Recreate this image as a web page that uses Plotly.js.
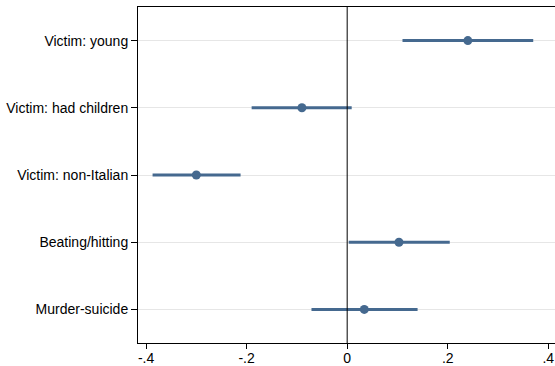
<!DOCTYPE html>
<html>
<head>
<meta charset="utf-8">
<script src="https://cdn.plot.ly/plotly-3.0.1.min.js"></script>
<style>html,body{margin:0;padding:0;background:#fff;}#chart{width:555px;height:366px;}</style>
</head>
<body>
<div id="chart"></div>
<script>
var categories = ["Victim: young", "Victim: had children", "Victim: non-Italian", "Beating/hitting", "Murder-suicide"];
var estimates = [0.240, -0.090, -0.300, 0.103, 0.034];
var ciLow = [0.110, -0.190, -0.387, 0.003, -0.071];
var ciHigh = [0.370, 0.009, -0.212, 0.204, 0.140];
var xTickVals = [-0.4, -0.2, 0, 0.2, 0.4];
var xTickText = ["-.4", "-.2", "0", ".2", ".4"];

var color = "#45698f";
var trace = {
  type: "scatter",
  mode: "markers",
  x: estimates,
  y: categories,
  marker: {color: color, size: 9},
  error_x: {
    type: "data",
    symmetric: false,
    array: ciHigh.map(function(h, i){ return h - estimates[i]; }),
    arrayminus: estimates.map(function(e, i){ return e - ciLow[i]; }),
    color: color,
    thickness: 3,
    width: 0
  },
  hoverinfo: "none"
};

var layout = {
  width: 555,
  height: 366,
  margin: {l: 138, r: 0, t: 7, b: 23, pad: 0},
  paper_bgcolor: "#fff",
  plot_bgcolor: "#fff",
  showlegend: false,
  font: {family: "Liberation Sans, Arial, sans-serif", size: 14, color: "#000"},
  xaxis: {
    range: [-0.416, 0.4133],
    tickvals: xTickVals,
    ticktext: xTickText,
    showgrid: false,
    zeroline: false,
    showline: true,
    linecolor: "#000",
    linewidth: 1,
    mirror: true,
    ticks: "outside",
    ticklen: 5,
    tickcolor: "#000",
    ticklabelstandoff: -3,
    tickfont: {size: 14}
  },
  yaxis: {
    type: "category",
    categoryorder: "array",
    categoryarray: categories,
    range: [4.5, -0.5],
    showgrid: true,
    gridcolor: "#e6e6e6",
    gridwidth: 1,
    zeroline: false,
    showline: true,
    linecolor: "#000",
    linewidth: 1,
    ticks: "outside",
    ticklen: 6,
    tickcolor: "#000",
    tickfont: {size: 14}
  },
  shapes: [{
    type: "line", xref: "x", yref: "paper",
    x0: 0, x1: 0, y0: 0, y1: 1,
    line: {color: "#000", width: 1}
  }]
};

Plotly.newPlot("chart", [trace], layout, {staticPlot: true, displayModeBar: false});
</script>
</body>
</html>
